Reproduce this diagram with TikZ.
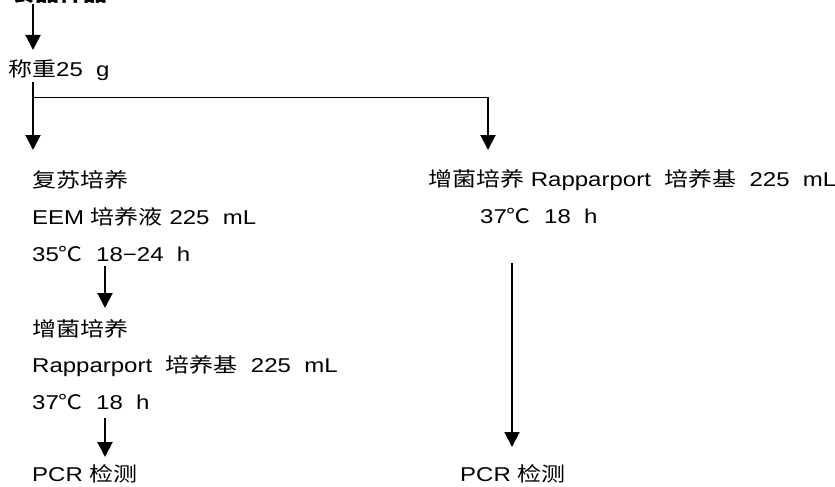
\documentclass[tikz,border=0pt]{standalone}
\usepackage{fontspec}
\setmainfont[FakeStretch=1.2]{Liberation Sans}
\newfontfamily\cjk[FakeStretch=1.2]{Noto Sans CJK SC}
\newcommand{\zh}[1]{{\cjk\fontsize{20pt}{20pt}\selectfont #1}}
\usetikzlibrary{arrows.meta}
\begin{document}
\begin{tikzpicture}[x=1pt,y=-1pt,
  txt/.style={anchor=base west,inner sep=0pt,font=\fontsize{20pt}{20pt}\selectfont},
  arr/.style={line width=2pt,-{Triangle[length=15pt,width=15pt]}},
  thin/.style={line width=0.9pt}]
\clip (0,0) rectangle (835,487);
\useasboundingbox (0,0) rectangle (835,487);
% top (clipped) text
\node[txt] (top) at (11,2) {\zh{\bfseries 食品样品}};
\coordinate (topa) at (33,4);
\node[txt] (w) at (8,77) {\zh{称重}25\ \ g};
% left column
\node[txt] (a1) at (32,187) {\zh{复苏培养}};
\node[txt] (a2) at (32,224) {EEM \zh{培养液} 225\ \ mL};
\node[txt] (a3) at (32,261) {35\zh{℃}\ \ 18\textminus 24\ \ h};
\node[txt] (b1) at (32,336) {\zh{增菌培养}};
\node[txt] (b2) at (32,372) {Rapparport\ \ \zh{培养基}\ \ 225\ \ mL};
\node[txt] (b3) at (32,409) {37\zh{℃}\ \ 18\ \ h};
\node[txt] (p1) at (32,481) {PCR \zh{检测}};
% right column
\node[txt] (r1) at (428,186) {\zh{增菌培养} Rapparport\ \ \zh{培养基}\ \ 225\ \ mL};
\node[txt] (r2) at (480,223) {37\zh{℃}\ \ 18\ \ h};
\node[txt] (p2) at (460,481) {PCR \zh{检测}};
% connectors
\draw[arr] (topa) -- (33,50);
\coordinate (wb) at (33,82);
\coordinate (br) at (33,97);
\draw[arr] (wb) -- (33,150);
\draw[thin] (br) -- (488,97) coordinate (brr);
\draw[arr] (brr) -- (488,150);
\draw[arr] (105,266) -- (105,308);
\draw[arr] (105,418) -- (105,457);
\draw[arr] (512,263) -- (512,447);
\end{tikzpicture}
\end{document}
